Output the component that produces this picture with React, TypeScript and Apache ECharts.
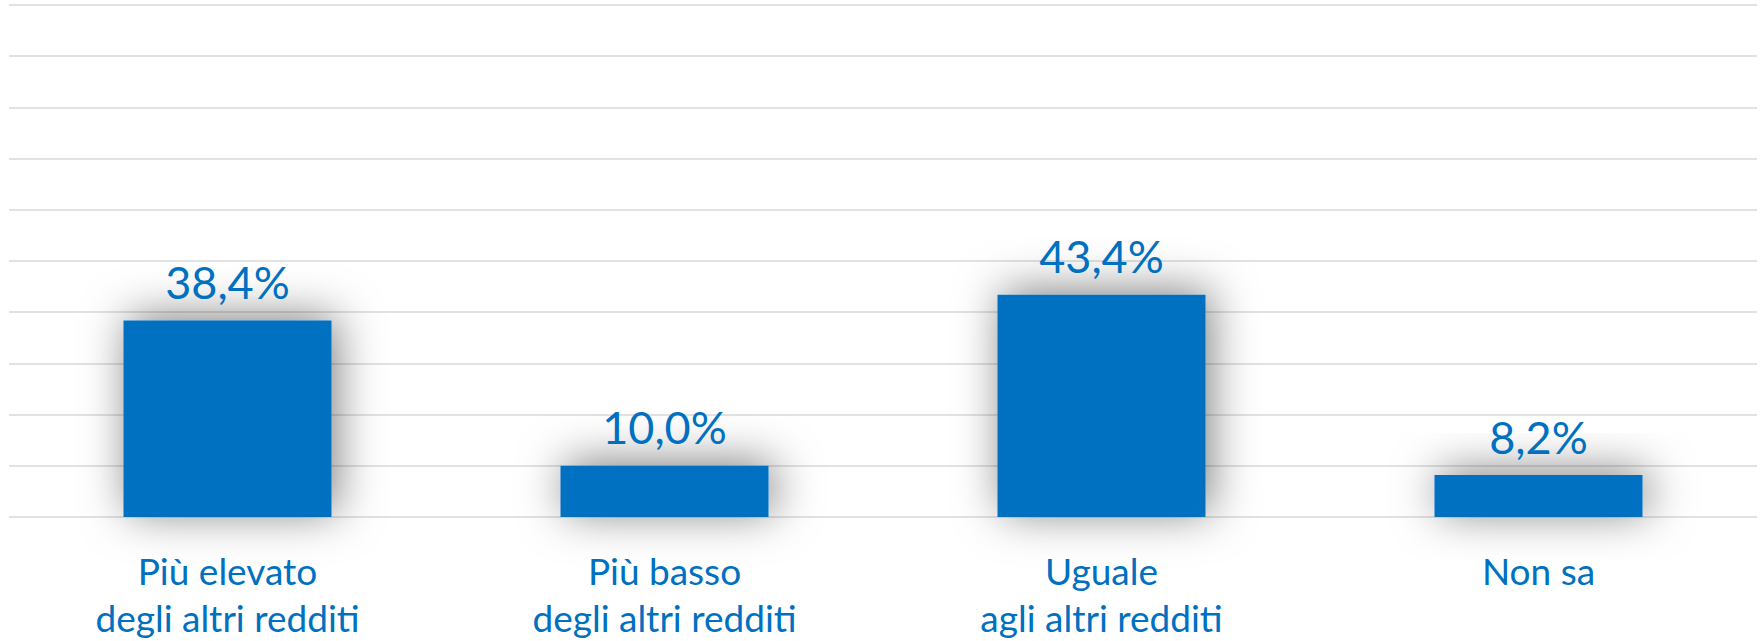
import React, { useEffect, useRef } from "react";
import * as echarts from "echarts";

const categories = [
  "Più elevato\ndegli altri redditi",
  "Più basso\ndegli altri redditi",
  "Uguale\nagli altri redditi",
  "Non sa",
];
const values = [38.4, 10.0, 43.4, 8.2];
const yMin = 0;
const yMax = 100;
const yInterval = 10;

const BLUE = "#0070C0";
const FONT = "Lato, 'Noto Sans', sans-serif";

export default function App() {
  const ref = useRef<HTMLDivElement>(null);
  useEffect(() => {
    document.body.style.margin = "0";
    const chart = echarts.init(ref.current!, undefined, { renderer: "svg" });
    chart.setOption({
      animation: false,
      backgroundColor: "#ffffff",
      grid: { left: 9, right: 4, top: 5, bottom: 124, containLabel: false },
      xAxis: {
        type: "category",
        data: categories,
        axisLine: { show: false },
        axisTick: { show: false },
        axisLabel: {
          color: BLUE,
          fontFamily: FONT,
          fontSize: 37,
          lineHeight: 47,
          margin: 30,
          interval: 0,
        },
      },
      yAxis: {
        type: "value",
        min: yMin,
        max: yMax,
        interval: yInterval,
        axisLabel: { show: false },
        axisLine: { show: false },
        axisTick: { show: false },
        splitLine: { lineStyle: { color: "#d9d9d9", width: 1.5 } },
      },
      series: [
        {
          type: "bar",
          data: values,
          barWidth: "47.6%",
          itemStyle: {
            color: BLUE,
            shadowBlur: 45,
            shadowColor: "rgba(0,0,0,0.5)",
            shadowOffsetX: 5,
            shadowOffsetY: -4,
          },
          label: {
            show: true,
            position: "top",
            distance: 16,
            color: BLUE,
            fontFamily: FONT,
            fontSize: 45,
            formatter: (p: any) => p.value.toFixed(1).replace(".", ",") + "%",
          },
        },
      ],
    });
    return () => chart.dispose();
  }, []);
  return (
    <div
      ref={ref}
      style={{ position: "absolute", left: 0, top: 0, width: 1761, height: 641 }}
    />
  );
}
